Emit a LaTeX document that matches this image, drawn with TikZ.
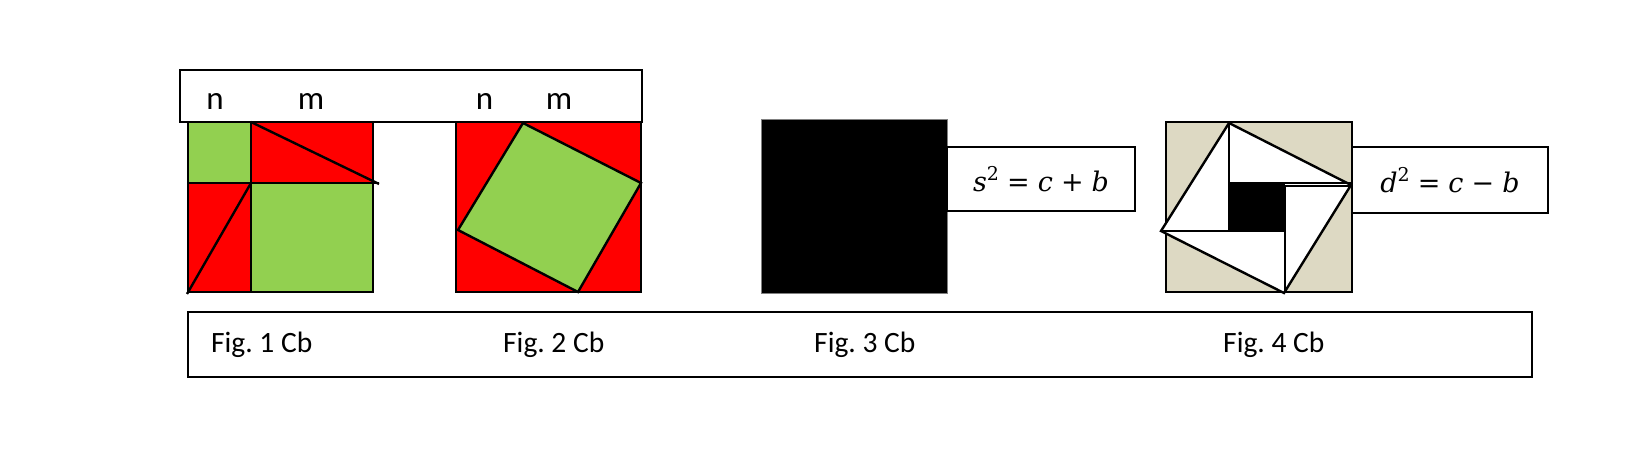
\documentclass[tikz,border=0pt]{standalone}
\usepackage{fontspec}
\setmainfont{Carlito}
\newfontfamily\eqfont{DejaVu Serif}
\definecolor{redf}{HTML}{FF0000}
\definecolor{greenf}{HTML}{92D050}
\definecolor{beigef}{HTML}{DDD9C3}
\newcommand{\eqsp}{\hspace{0.3em}}
\newcommand{\eqsq}{\raisebox{0.42em}{\upshape\fontsize{19}{20}\selectfont 2}}
\begin{document}
\frenchspacing
\begin{tikzpicture}[x=1pt,y=-1pt]
\tikzset{
  ln/.style={line width=2.4pt, draw=black},
  boxnode/.style={draw=black, line width=2.4pt, fill=white, inner sep=0pt},
  nmlabel/.style={font=\fontsize{33}{36}\selectfont, inner sep=0pt, anchor=base},
  figlabel/.style={font=\fontsize{29.5}{32}\selectfont, inner sep=0pt, anchor=base west},
  eqtext/.style={font=\eqfont\fontsize{27}{30}\selectfont}
}
\useasboundingbox (0,0) rectangle (1652,457);
\fill[white] (0,0) rectangle (1652,457);

% top label box
\node[boxnode, minimum width=462pt, minimum height=52pt, anchor=north west] (topbox) at (179,69) {};
\node[nmlabel] (n1) at (215,110) {n};
\node[nmlabel] (m1) at (311,110) {m};
\node[nmlabel] (n2) at (484.5,110) {n};
\node[nmlabel] (m2) at (559,110) {m};

% Fig 1
\fill[greenf] (188,122) rectangle (251,183);
\fill[redf] (251,122) rectangle (373,183);
\fill[redf] (188,183) rectangle (251,292);
\fill[greenf] (251,183) rectangle (373,292);
\draw[ln] (188,122) rectangle (373,292);
\draw[ln] (251,122) -- (251,292);
\draw[ln] (188,183) -- (379,183);
\draw[ln] (251,122) -- (379,184);
\draw[ln] (187,294) -- (251,183);

% Fig 2
\fill[redf] (456,122) rectangle (641,292);
\filldraw[ln, fill=greenf] (523,123) -- (641,183) -- (578,292) -- (458,230) -- cycle;
\draw[ln] (456,122) rectangle (641,292);

% Fig 3
\filldraw[fill=black, draw=gray, line width=1pt] (761,120) rectangle (947,293);
\node[boxnode, eqtext, minimum width=188pt, minimum height=64pt] (eq1) at (1041,179)
  {\itshape s\eqsq\eqsp\upshape =\eqsp\itshape c\eqsp\upshape +\eqsp\itshape b};

% Fig 4
\filldraw[ln, fill=beigef] (1166,122) rectangle (1352,292);
\filldraw[ln, fill=white] (1229,123) -- (1351,185) -- (1284,293) -- (1161,231) -- cycle;
\fill[black] (1229,183) rectangle (1285,231);
\draw[ln] (1229,123) -- (1229,231);
\draw[ln] (1229,183) -- (1351,183);
\draw[ln] (1285,186) -- (1351,186);
\draw[ln] (1285,186) -- (1285,293);
\draw[ln] (1161,231) -- (1285,231);
\node[boxnode, eqtext, minimum width=196pt, minimum height=66pt] (eq2) at (1450,180)
  {\itshape d\eqsq\eqsp\upshape =\eqsp\itshape c\eqsp\upshape −\eqsp\itshape b};

% bottom caption box
\node[boxnode, minimum width=1344pt, minimum height=65pt] (capbox) at (860,344.5) {};
\node[figlabel] (f1) at (211,352) {Fig. 1 Cb};
\node[figlabel] (f2) at (503,352) {Fig. 2 Cb};
\node[figlabel] (f3) at (814,352) {Fig. 3 Cb};
\node[figlabel] (f4) at (1223,352) {Fig. 4 Cb};
\end{tikzpicture}
\end{document}
